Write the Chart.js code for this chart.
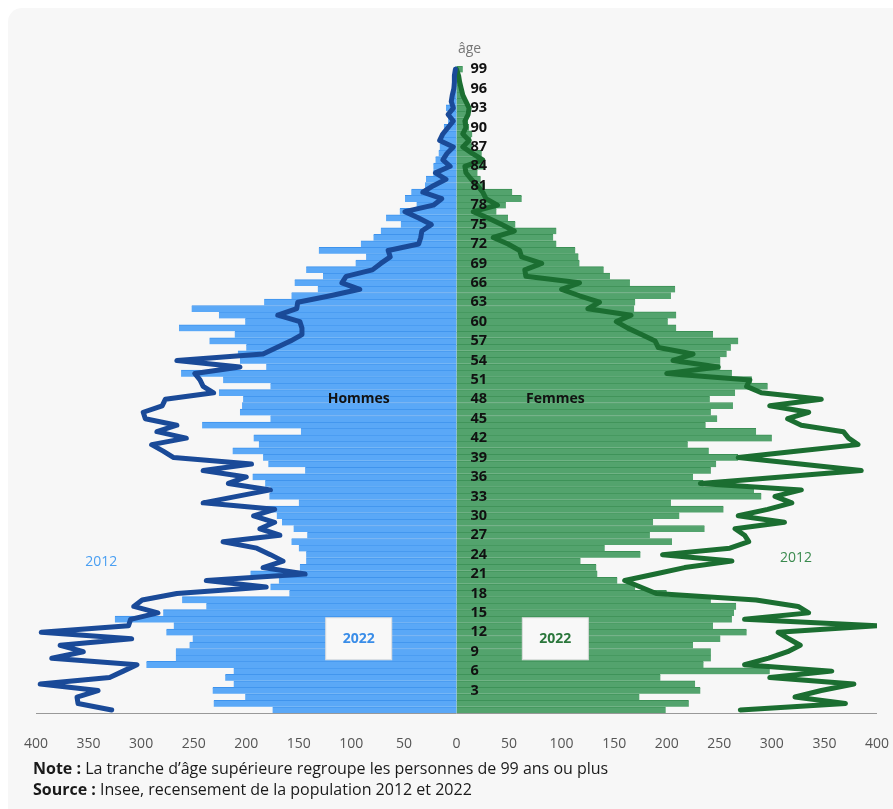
<!DOCTYPE html>
<html lang="fr">
<head>
<meta charset="utf-8">
<script src="https://cdn.jsdelivr.net/npm/chart.js@4.4.1/dist/chart.umd.min.js"></script>
<style>
body { margin:0; background:#fff; font-family:"Open Sans", sans-serif; overflow:hidden; }
#card { position:absolute; left:8px; top:8px; width:905px; height:820px; background:#f7f7f7; border-radius:14px; }
#wrap { position:absolute; left:0; top:0; width:911px; height:784px; }
#notes { position:absolute; left:33px; top:758px; font-size:16px; color:#1a1a1a; line-height:21px; }
</style>
</head>
<body>
<div id="card"></div>
<div id="wrap"><canvas id="pyramide"></canvas></div>
<div id="notes">
<div><b>Note :</b> La tranche d’âge supérieure regroupe les personnes de 99 ans ou plus</div>
<div><b>Source :</b> Insee, recensement de la population 2012 et 2022</div>
</div>
<script>
// ages 0 to 99 (bottom to top)
var ages = Array.from({length: 100}, function(_, i) { return i; });
var ageTicks = [3,6,9,12,15,18,21,24,27,30,33,36,39,42,45,48,51,54,57,60,63,66,69,72,75,78,81,84,87,90,93,96,99];

// hommes 2022, age 0 -> 99
var hommes2022 = [175,231,201,232,212,220,212,295,267,267,
  254,251,276,269,325,279,238,261,159,177,
  169,196,149,143,143,150,157,142,155,166,
  171,181,150,178,177,182,194,144,179,184,
  213,188,193,148,242,177,206,204,203,226,
  177,222,262,181,206,208,200,235,211,264,
  201,226,252,183,157,132,154,127,143,96,
  86,131,91,79,72,53,67,54,38,49,
  43,30,29,22,22,20,17,16,15,14,
  12,8,7,10,6,4,3,2,1,1];

// femmes 2022
var femmes2022 = [199,221,174,232,227,194,298,235,242,242,
  225,251,276,244,262,264,266,242,200,170,
  153,134,133,118,175,141,205,184,236,187,
  212,254,204,290,283,235,225,242,247,268,
  240,220,300,285,237,248,242,263,241,265,
  296,281,262,251,251,257,261,268,244,209,
  201,209,169,170,204,208,165,146,140,117,
  116,113,95,92,95,56,49,38,47,62,
  53,27,23,20,27,22,24,15,14,15,
  12,11,9,11,8,6,5,4,3,6];

// hommes 2012 (ligne)
var hommes2012 = [328,360,361,341,396,330,317,304,385,355,
  377,309,395,312,310,284,307,299,266,181,
  238,144,184,165,177,190,222,168,187,173,
  193,173,241,209,177,217,200,241,195,269,
  279,290,257,285,266,296,298,280,277,231,
  241,244,249,206,266,184,171,158,147,147,
  149,170,152,151,120,92,109,105,80,72,
  63,65,36,34,33,24,36,49,22,14,
  32,22,10,20,6,13,9,3,16,13,
  8,3,8,3,5,4,2.5,2,2,1];

// femmes 2012 (ligne)
var femmes2012 = [270,370,322,347,378,298,357,274,297,315,
  327,316,306,400,274,335,325,285,190,175,
  160,189,217,262,196,260,278,274,265,312,
  268,296,319,303,328,232,309,385,327,268,
  325,382,373,368,328,315,335,298,347,290,
  276,279,200,249,206,225,192,189,176,163,
  152,166,125,136,117,100,117,66,65,81,
  62,60,49,35,55,43,30,16,39,28,
  25,20,14,9,8,25,15,6,12,6,
  9,8,11,12,9,6,4.5,3,2,0];

function negate(arr) {
  return arr.map(function(v) { return -v; });
}

// texts drawn on the plot, placed with the scales
var annotations = {
  id: "annotations",
  afterDatasetsDraw: function(chart) {
    var ctx = chart.ctx;
    var x = chart.scales.x, y = chart.scales.y;
    var x0 = x.getPixelForValue(0);
    ctx.save();
    ctx.textBaseline = "middle";

    // age labels
    ctx.font = "bold 14.5px 'Open Sans'";
    ctx.fillStyle = "#111";
    ctx.textAlign = "left";
    for (var i = 0; i < ageTicks.length; i++) {
      ctx.fillText(String(ageTicks[i]), x0 + 14, y.getPixelForValue(ageTicks[i]));
    }

    ctx.font = "14px 'Open Sans'";
    ctx.fillStyle = "#777";
    ctx.textAlign = "center";
    ctx.fillText("âge", x0 + 13, chart.chartArea.top - 17);

    ctx.font = "bold 14px 'Open Sans'";
    ctx.fillStyle = "#111";
    ctx.fillText("Hommes", x.getPixelForValue(-93), y.getPixelForValue(48));
    ctx.fillText("Femmes", x.getPixelForValue(94), y.getPixelForValue(48));

    // 2022 boxes
    var boxes = [[-93, "#3a8de8"], [94, "#2b773c"]];
    for (var b = 0; b < boxes.length; b++) {
      var cx = x.getPixelForValue(boxes[b][0]);
      var cy = y.getPixelForValue(11);
      ctx.fillStyle = "#f8f8f8";
      ctx.strokeStyle = "#dddddd";
      ctx.lineWidth = 1;
      ctx.fillRect(cx - 33, cy - 21, 66, 42);
      ctx.strokeRect(cx - 33, cy - 21, 66, 42);
      ctx.fillStyle = boxes[b][1];
      ctx.fillText("2022", cx, cy);
    }

    // 2012 labels
    ctx.font = "14px 'Open Sans'";
    ctx.fillStyle = "#4a9ff2";
    ctx.fillText("2012", x.getPixelForValue(-338), y.getPixelForValue(22.9));
    ctx.fillStyle = "#3a8a4e";
    ctx.fillText("2012", x.getPixelForValue(323), y.getPixelForValue(23.5));
    ctx.restore();
  }
};

var ctx = document.getElementById("pyramide").getContext("2d");
var chart = new Chart(ctx, {
  data: {
    labels: ages,
    datasets: [
      {
        type: "line",
        label: "Hommes 2012",
        data: negate(hommes2012),
        borderColor: "#1a4a98",
        borderWidth: 5,
        pointRadius: 0,
        tension: 0,
        borderJoinStyle: "round",
        borderCapStyle: "round",
        order: 1
      },
      {
        type: "line",
        label: "Femmes 2012",
        data: femmes2012,
        borderColor: "#1b6e31",
        borderWidth: 5,
        pointRadius: 0,
        tension: 0,
        borderJoinStyle: "round",
        borderCapStyle: "round",
        order: 1
      },
      {
        type: "bar",
        label: "Hommes 2022",
        data: negate(hommes2022),
        backgroundColor: "#5aa8f7",
        borderColor: "#3d92ec",
        borderWidth: {top: 1, bottom: 0, left: 0, right: 0},
        borderSkipped: false,
        barPercentage: 1,
        categoryPercentage: 1,
        grouped: false,
        order: 2
      },
      {
        type: "bar",
        label: "Femmes 2022",
        data: femmes2022,
        backgroundColor: "#53a36d",
        borderColor: "#3b8f55",
        borderWidth: {top: 1, bottom: 0, left: 0, right: 0},
        borderSkipped: false,
        barPercentage: 1,
        categoryPercentage: 1,
        grouped: false,
        order: 2
      }
    ]
  },
  options: {
    indexAxis: "y",
    responsive: true,
    maintainAspectRatio: false,
    animation: false,
    layout: { padding: { left: 36, right: 1, top: 66, bottom: 10 } },
    plugins: { legend: { display: false }, tooltip: { enabled: false } },
    scales: {
      x: {
        type: "linear",
        min: -400,
        max: 400,
        ticks: {
          stepSize: 50,
          color: "#555",
          font: { family: "'Open Sans'", size: 14 },
          padding: 22,
          callback: function(v) { return Math.abs(v); }
        },
        grid: { display: false, drawTicks: false },
        border: { display: true, color: "#999", width: 1 }
      },
      y: {
        type: "category",
        reverse: true,
        display: false
      }
    }
  },
  plugins: [annotations]
});
</script>
</body>
</html>
